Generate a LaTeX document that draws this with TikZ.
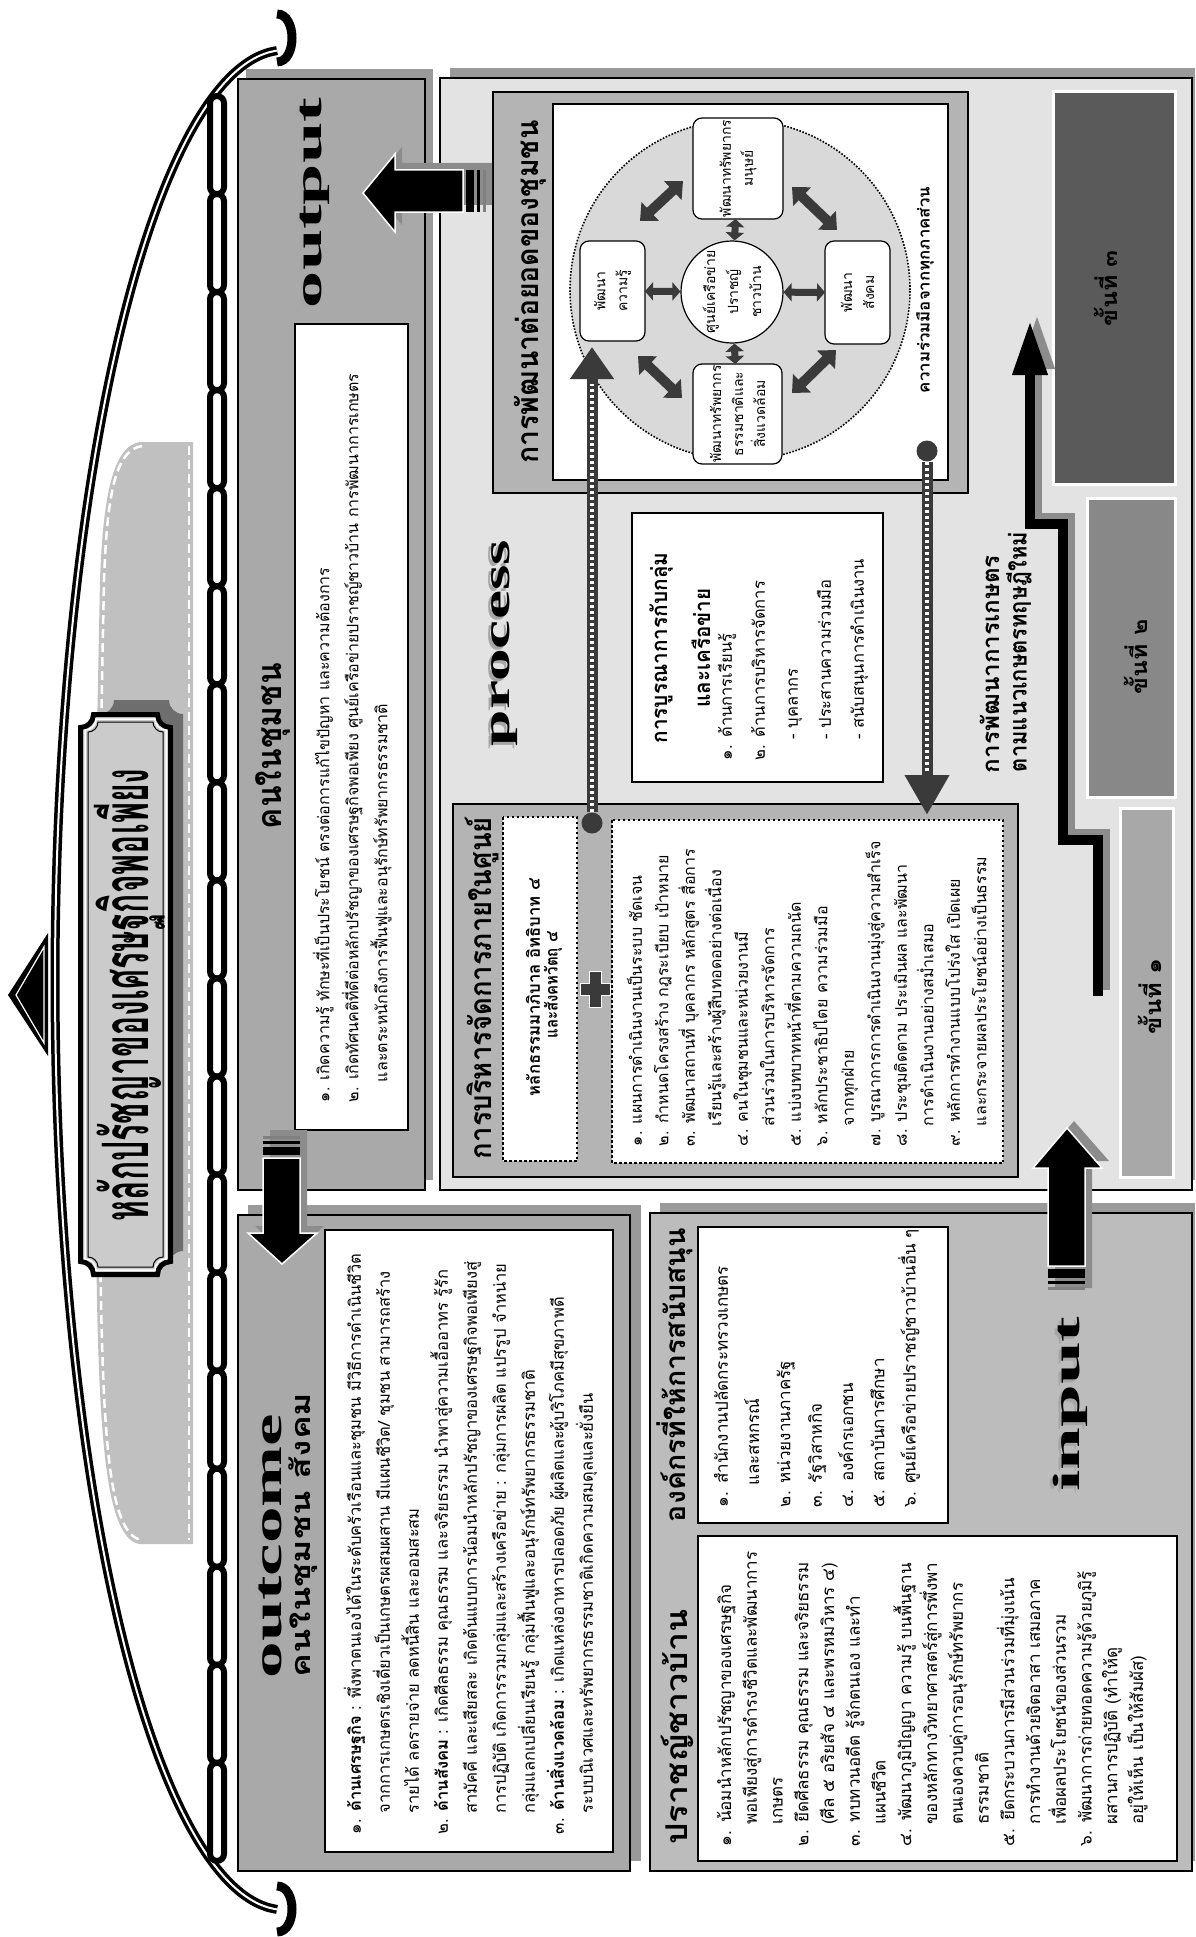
\documentclass[tikz,border=0pt]{standalone}
\usepackage{fontspec}
\usepackage{graphicx}
\setmainfont[Script=Thai]{Loma}
\newfontfamily\enfont{Liberation Serif}
\usetikzlibrary{arrows.meta}
\definecolor{pOut}{HTML}{A9A9A9}
\definecolor{pShadow}{HTML}{9A9A9A}
\definecolor{pProc}{HTML}{E3E3E3}
\definecolor{pIn}{HTML}{BCBCBC}
\definecolor{pFrame}{HTML}{B4B4B4}
\definecolor{dgray}{HTML}{3A3A3A}
\definecolor{stA}{HTML}{A8A8A8}
\definecolor{stB}{HTML}{888888}
\definecolor{stC}{HTML}{5A5A5A}
\definecolor{lgray}{HTML}{C0C0C0}
\definecolor{bnFill}{HTML}{CBCBCB}
\definecolor{bnShadow}{HTML}{6E6E6E}
\definecolor{cFill}{HTML}{D9D9D9}
\definecolor{wShadow}{HTML}{8C8C8C}
\newcommand\ind{\phantom{๑.\ }}
\newcommand\fw[2]{\resizebox{#1pt}{\height}{#2}}
\newcommand\fs[1]{\fontsize{#1}{#1}\selectfont}
\newcommand\concave[5]{(#1+#5,#2) -- (#3-#5,#2) .. controls (#3-#5,#2+0.55*#5) and (#3-0.55*#5,#2+#5) .. (#3,#2+#5) -- (#3,#4-#5) .. controls (#3-0.55*#5,#4-#5) and (#3-#5,#4-0.55*#5) .. (#3-#5,#4) -- (#1+#5,#4) .. controls (#1+#5,#4-0.55*#5) and (#1+0.55*#5,#4-#5) .. (#1,#4-#5) -- (#1,#2+#5) .. controls (#1+0.55*#5,#2+#5) and (#1+#5,#2+0.55*#5) .. (#1+#5,#2) -- cycle}
\begin{document}
\begin{tikzpicture}[x=1pt,y=-1pt,
  rot/.style={rotate=90,inner sep=0pt,outer sep=0pt},
  body/.style={rot,anchor=north west,align=left},
  panel/.style={draw=black,line width=2.5pt},
  wbox/.style={draw=black,line width=2.5pt,fill=white},
  dbox/.style={draw=black,line width=2.5pt,dash pattern=on 2.5pt off 2.5pt,fill=white},
  rbox/.style={rot,draw=black,line width=1.2pt,fill=white,rounded corners=9pt,align=center,font=\fontsize{14}{22}\selectfont},
  dbl/.style={line width=7pt,dgray,{Triangle[width=18pt,length=8pt]}-{Triangle[width=18pt,length=8pt]}},
  dblbig/.style={line width=10pt,dgray,{Triangle[width=25pt,length=14pt]}-{Triangle[width=25pt,length=14pt]}},
  blockarrow/.style={fill=black,draw=white,line width=1.5pt},
  stepbox/.style={draw=white,line width=3pt},
  chainw/.style={white,line width=3.5pt,dash pattern=on 3pt off 3pt},
  wordshadow/.style={rot,text=gray!70},
]
\useasboundingbox (0,0) rectangle (1195,1937);
\fill[white] (0,0) rectangle (1195,1937);

% ---------- roof: backdrop, arc, chain, banner ----------
\fill[lgray] (193,442) -- (140,442) .. controls (112,446) and (103,500) .. (100,580) -- (92,990) -- (97,1300) .. controls (100,1450) and (108,1540) .. (140,1544) -- (193,1544) -- cycle;
\draw[white,line width=2.5pt,dash pattern=on 9pt off 5pt] (189,446) -- (189,1540);
\draw[white,line width=2.5pt,dash pattern=on 9pt off 5pt] (142,446) .. controls (114,450) and (107,500) .. (104,580) -- (96,990) -- (101,1300) .. controls (104,1450) and (111,1536) .. (142,1540);

\fill[black] (8,995) -- (48,933) -- (48,1056) -- cycle;
\draw[white,line width=1.2pt] (16,995) -- (44,947) -- (44,1043) -- cycle;
\draw[line width=3.5pt,double=white,double distance=2pt] plot[smooth,domain=-88:88,samples=80] ({285-230*cos(\x)},{980+930*sin(\x)});
\draw[line width=9pt] (277,14) .. controls (297,14) and (297,62) .. (277,62);
\draw[line width=9pt] (277,1886) .. controls (297,1886) and (297,1932) .. (277,1932);

\foreach \i in {0,...,17}{
  \draw[line width=6pt,fill=white,rounded corners=7pt] (210,{96+\i*98.05}) rectangle (224,{96+(\i+1)*98.05});
}

\fill[bnShadow] \concave{100}{700}{183}{1265}{14};
\fill[bnFill] \concave{78}{712}{173}{1277}{14};
\draw[black,line width=5pt] \concave{80.5}{714.5}{170.5}{1274.5}{13};
\draw[white,line width=1.5pt] \concave{85}{719}{166}{1270}{11};
\draw[black,line width=1pt] \concave{88}{722}{163}{1267}{10};
\node[rot] (banner) at (130,995) {\fw{453}{\fs{64}\bfseries หลักปรัชญาของเศรษฐกิจพอเพียง}};

% ---------- panels ----------
\fill[pShadow] (246,69) rectangle (433,1180);
\draw[panel,fill=pOut] (238,79) rectangle (425,1190);
\draw[wbox] (295,324) rectangle (408,1130);

\fill[pShadow] (248,1205) rectangle (641,1861);
\draw[panel,fill=pOut] (238,1215) rectangle (630,1871);
\draw[wbox] (325,1230) rectangle (613,1852);

\fill[pShadow] (450,68) rectangle (1195,1180);
\draw[panel,fill=pProc] (440,78) rectangle (1192,1190);

\fill[pShadow] (660,1203) rectangle (1195,1861);
\draw[panel,fill=pIn] (650,1213) rectangle (1192,1871);
\draw[wbox] (698,1227) rectangle (948,1523);
\draw[wbox] (698,1536) rectangle (1177,1861);

% ---------- output panel ----------
\node[wordshadow] at (312,206) {\fw{210}{\fs{38}\enfont\bfseries output}};
\node[rot] (wOutput) at (315,203) {\fw{210}{\fs{38}\enfont\bfseries output}};
\node[rot] (hOutput) at (273,746) {\fw{166}{\fs{34}\bfseries คนในชุมชน}};
\node[body,font=\fontsize{16}{29}\selectfont] (tOutput) at (313,1102) {%
๑. เกิดความรู้ ทักษะที่เป็นประโยชน์ ตรงต่อการแก้ไขปัญหา และความต้องการ\\
๒. เกิดทัศนคติที่ดีต่อหลักปรัชญาของเศรษฐกิจพอเพียง ศูนย์เครือข่ายปราชญ์ชาวบ้าน การพัฒนาการเกษตร\\
\ind และตระหนักถึงการฟื้นฟูและอนุรักษ์ทรัพยากรธรรมชาติ};

% ---------- outcome panel ----------
\node[wordshadow] at (267,1549) {\fw{264}{\fs{40}\enfont\bfseries outcome}};
\node[rot] (wOutcome) at (270,1546) {\fw{264}{\fs{40}\enfont\bfseries outcome}};
\node[rot] (hOutcome) at (303,1535) {\fw{285}{\fs{27}\bfseries คนในชุมชน สังคม}};
\node[body,font=\fontsize{16.5}{29}\selectfont] (tOutcome) at (344,1834) {%
๑. \textbf{ด้านเศรษฐกิจ} : พึ่งพาตนเองได้ในระดับครัวเรือนและชุมชน มีวิธีการดำเนินชีวิต\\
\ind จากการเกษตรเชิงเดี่ยวเป็นเกษตรผสมผสาน มีแผนชีวิต/ ชุมชน สามารถสร้าง\\
\ind รายได้ ลดรายจ่าย ลดหนี้สิน และออมสะสม\\
๒. \textbf{ด้านสังคม} : เกิดศีลธรรม คุณธรรม และจริยธรรม นำพาสู่ความเอื้ออาทร รู้รัก\\
\ind สามัคคี และเสียสละ เกิดต้นแบบการน้อมนำหลักปรัชญาของเศรษฐกิจพอเพียงสู่\\
\ind การปฏิบัติ เกิดการรวมกลุ่มและสร้างเครือข่าย : กลุ่มการผลิต แปรรูป จำหน่าย\\
\ind กลุ่มแลกเปลี่ยนเรียนรู้ กลุ่มฟื้นฟูและอนุรักษ์ทรัพยากรธรรมชาติ\\
๓. \textbf{ด้านสิ่งแวดล้อม} : เกิดแหล่งอาหารปลอดภัย ผู้ผลิตและผู้บริโภคมีสุขภาพดี\\
\ind ระบบนิเวศและทรัพยากรธรรมชาติเกิดความสมดุลและยั่งยืน};

% ---------- input panel ----------
\node[wordshadow] at (1067,1407) {\fw{175}{\fs{38}\enfont\bfseries input}};
\node[rot] (wInput) at (1070,1404) {\fw{175}{\fs{38}\enfont\bfseries input}};
\node[rot] (hOrg) at (675,1375) {\fw{294}{\fs{28}\bfseries องค์กรที่ให้การสนับสนุน}};
\node[rot] (hSage) at (677,1727) {\fw{235}{\fs{30}\bfseries ปราชญ์ชาวบ้าน}};
\node[body,font=\fontsize{17}{31.3}\selectfont] (tOrg) at (714,1507) {%
๑. สำนักงานปลัดกระทรวงเกษตร\\
\ind และสหกรณ์\\
๒. หน่วยงานภาครัฐ\\
๓. รัฐวิสาหกิจ\\
๔. องค์กรเอกชน\\
๕. สถาบันการศึกษา\\
๖. ศูนย์เครือข่ายปราชญ์ชาวบ้านอื่น ๆ};
\node[body,font=\fontsize{17}{25.75}\selectfont] (tSage) at (717,1846) {%
๑. น้อมนำหลักปรัชญาของเศรษฐกิจ\\
\ind พอเพียงสู่การดำรงชีวิตและพัฒนาการ\\
\ind เกษตร\\
๒. ยึดศีลธรรม คุณธรรม และจริยธรรม\\
\ind (ศีล ๕ อริยสัจ ๔ และพรหมวิหาร ๔)\\
๓. ทบทวนอดีต รู้จักตนเอง และทำ\\
\ind แผนชีวิต\\
๔. พัฒนาภูมิปัญญา ความรู้ บนพื้นฐาน\\
\ind ของหลักทางวิทยาศาสตร์สู่การพึ่งพา\\
\ind ตนเองควบคู่การอนุรักษ์ทรัพยากร\\
\ind ธรรมชาติ\\
๕. ยึดกระบวนการมีส่วนร่วมที่มุ่งเน้น\\
\ind การทำงานด้วยจิตอาสา เสมอภาค\\
\ind เพื่อผลประโยชน์ของส่วนรวม\\
๖. พัฒนาการถ่ายทอดความรู้ด้วยภูมิรู้\\
\ind ผสานการปฏิบัติ (ทำให้ดู\\
\ind อยู่ให้เห็น เป็นให้สัมผัส)};

% ---------- process panel ----------
\node[wordshadow] at (502,646) {\fw{206}{\fs{38}\enfont\bfseries process}};
\node[rot] (wProcess) at (505,643) {\fw{206}{\fs{38}\enfont\bfseries process}};

% top box: community development
\draw[panel,fill=pFrame] (493,92) rectangle (968,493);
\draw[wbox,line width=2pt] (553,104) rectangle (948,480);
\node[rot] (hDev) at (530,292) {\fw{343}{\fs{30}\bfseries การพัฒนาต่อยอดของชุมชน}};
\draw[line width=1.6pt,dash pattern=on 1.6pt off 1.6pt,fill=cFill] (740,290) circle[radius=170pt];
\node[circle,draw,line width=1.2pt,fill=white,minimum size=102pt,inner sep=0pt,rotate=90,align=center,font=\fontsize{14}{23}\selectfont] (cc) at (732,292) {ศูนย์เครือข่าย\\ปราชญ์\\ชาวบ้าน};
\node[rbox,minimum width=101pt,minimum height=90pt] (hr) at (738,168.5) {พัฒนาทรัพยากร\\มนุษย์};
\node[rbox,minimum width=100pt,minimum height=89pt] (nr) at (737.5,414) {พัฒนาทรัพยากร\\ธรรมชาติและ\\สิ่งแวดล้อม};
\node[rbox,minimum width=100pt,minimum height=65pt] (kn) at (612.5,291) {พัฒนา\\ความรู้};
\node[rbox,minimum width=103pt,minimum height=65pt] (sk) at (857.5,292.5) {พัฒนา\\สังคม};
\draw[dbl] (cc) -- (kn);
\draw[dbl] (cc) -- (hr);
\draw[dbl] (cc) -- (nr);
\draw[dbl] (cc) -- (sk);
\coordinate (aTL1) at (640,221); \coordinate (aTL2) at (683,181);
\coordinate (aBL1) at (638,356); \coordinate (aBL2) at (682,398);
\coordinate (aTR1) at (792,187); \coordinate (aTR2) at (837,230);
\coordinate (aBR1) at (792,393); \coordinate (aBR2) at (836,350);
\draw[dblbig] (aTL1) -- (aTL2);
\draw[dblbig] (aBL1) -- (aBL2);
\draw[dblbig] (aTR1) -- (aTR2);
\draw[dblbig] (aBR1) -- (aBR2);
\node[rot] (hCoop) at (925,290) {\fw{206}{\fs{16}\bfseries ความร่วมมือจากทุกภาคส่วน}};

% integration box
\draw[wbox,line width=2pt] (632,513) rectangle (883,782);
\node[rot] (hInt1) at (661,648) {\fw{191}{\fs{22}\bfseries การบูรณาการกับกลุ่ม}};
\node[rot] (hInt2) at (701,648) {\fw{119}{\fs{22}\bfseries และเครือข่าย}};
\node[body,font=\fontsize{16.5}{33}\selectfont] (tInt) at (718,760) {%
๑. ด้านการเรียนรู้\\
๒. ด้านการบริหารจัดการ\\
\ind - บุคลากร\\
\ind - ประสานความร่วมมือ\\
\ind - สนับสนุนการดำเนินงาน};

% management box
\draw[panel,fill=pFrame] (453,804) rectangle (1018,1177);
\node[rot] (hMan) at (482,988) {\fw{342}{\fs{30}\bfseries การบริหารจัดการภายในศูนย์}};
\draw[dbox] (503,817) rectangle (577,1161);
\node[rot] (tPr1) at (533,987) {\fw{218}{\fs{17}\bfseries หลักธรรมมาภิบาล อิทธิบาท ๔}};
\node[rot] (tPr2) at (553,985) {\fw{107}{\fs{17}\bfseries และสังคหวัตถุ ๔}};
\draw[dbox] (612,820) rectangle (1003,1163);
\draw[fill=dgray,draw=white,line width=1pt] (589,971) -- (601,971) -- (601,983) -- (610,983) -- (610,995) -- (601,995) -- (601,1007) -- (589,1007) -- (589,995) -- (580,995) -- (580,983) -- (589,983) -- cycle;
\node[body,font=\fontsize{16}{26.5}\selectfont] (tMan) at (627,1146) {%
๑. แผนการดำเนินงานเป็นระบบ ชัดเจน\\
๒. กำหนดโครงสร้าง กฎระเบียบ เป้าหมาย\\
๓. พัฒนาสถานที่ บุคลากร หลักสูตร สื่อการ\\
\ind เรียนรู้และสร้างผู้สืบทอดอย่างต่อเนื่อง\\
๔. คนในชุมชนและหน่วยงานมี\\
\ind ส่วนร่วมในการบริหารจัดการ\\
๕. แบ่งบทบาทหน้าที่ตามความถนัด\\
๖. หลักประชาธิปไตย ความร่วมมือ\\
\ind จากทุกฝ่าย\\
๗. บูรณาการการดำเนินงานมุ่งสู่ความสำเร็จ\\
๘. ประชุมติดตาม ประเมินผล และพัฒนา\\
\ind การดำเนินงานอย่างสม่ำเสมอ\\
๙. หลักการทำงานแบบโปร่งใส เปิดเผย\\
\ind และกระจายผลประโยชน์อย่างเป็นธรรม};

% dotted connectors
\node[circle,fill=dgray,minimum size=21pt,inner sep=0pt] (d1) at (927,451) {};
\node[circle,fill=dgray,minimum size=21pt,inner sep=0pt] (d2) at (592,823) {};
\coordinate (e1) at (927,815);
\coordinate (e2) at (592,347);
\draw[line width=11pt,dgray,-{Triangle[length=40pt,width=42pt]}] (d1) -- (e1);
\draw[chainw] (927,462) -- (927,772);
\draw[line width=11pt,dgray,-{Triangle[length=32pt,width=42pt]}] (d2) -- (e2);
\draw[chainw] (592,812) -- (592,384);

% steps
\draw[stepbox,fill=stC] (1053,92) rectangle (1175,484);
\draw[stepbox,fill=stB] (1087,498) rectangle (1175,797);
\draw[stepbox,fill=stA] (1120,808) rectangle (1173,1177);
\node[rot] (s3) at (1106,288) {\fw{76}{\fs{22}\bfseries ขั้นที่ ๓}};
\node[rot] (s2) at (1136,657) {\fw{75}{\fs{22}\bfseries ขั้นที่ ๒}};
\node[rot] (s1) at (1150,996) {\fw{76}{\fs{22}\bfseries ขั้นที่ ๑}};
\draw[line width=10pt,wShadow,-{Triangle[length=54pt,width=33pt]}] (1105,990) -- (1105,834) -- (1070,834) -- (1070,518) -- (1037,518) -- (1037,315);
\draw[line width=10pt,black,-{Triangle[length=54pt,width=33pt]}] (1098,996) -- (1098,840) -- (1063,840) -- (1063,524) -- (1030,524) -- (1030,321);
\node[rot] (lAg1) at (990,664) {\fw{218}{\fs{24}\bfseries การพัฒนาการเกษตร}};
\node[rot] (lAg2) at (1019,652) {\fw{240}{\fs{24}\bfseries ตามแนวเกษตรทฤษฎีใหม่}};

% ---------- block arrows between panels ----------
\fill[wShadow] (370,186) -- (402,147) -- (402,163) -- (492,163) -- (492,205) -- (402,205) -- (402,225) -- cycle;
\draw[blockarrow] (363,193) -- (395,154) -- (395,170) -- (463,170) -- (463,212) -- (395,212) -- (395,232) -- cycle;
\fill[black] (466,170) rectangle (474,212);
\fill[black] (477,170) rectangle (480,212);
\fill[gray] (483,170) rectangle (486,212);

\fill[wShadow] (289,1257) -- (255,1226) -- (270,1226) -- (270,1130) -- (307,1130) -- (307,1226) -- (324,1226) -- cycle;
\draw[blockarrow] (282,1264) -- (248,1233) -- (263,1233) -- (263,1158) -- (300,1158) -- (300,1233) -- (317,1233) -- cycle;
\fill[black] (263,1147) rectangle (300,1155);
\fill[black] (263,1141) rectangle (300,1144);
\fill[gray] (263,1136) rectangle (300,1138.5);

\fill[wShadow] (1074,1121) -- (1109,1161) -- (1092,1161) -- (1092,1288) -- (1055,1288) -- (1055,1161) -- (1040,1161) -- cycle;
\draw[blockarrow] (1067,1128) -- (1102,1168) -- (1085,1168) -- (1085,1266) -- (1048,1266) -- (1048,1168) -- (1033,1168) -- cycle;
\fill[black] (1048,1269) rectangle (1085,1278);
\fill[black] (1048,1281) rectangle (1085,1284);
\fill[gray] (1048,1287) rectangle (1085,1290);
\end{tikzpicture}
\end{document}
